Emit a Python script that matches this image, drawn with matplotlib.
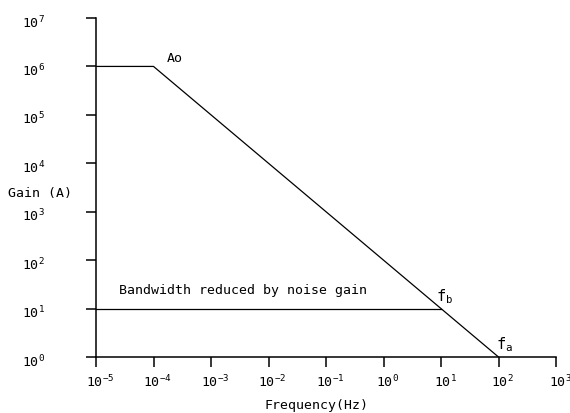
import math
import matplotlib
matplotlib.use("Agg")
import matplotlib.pyplot as plt
from matplotlib.ticker import FixedLocator, FuncFormatter
from matplotlib.transforms import ScaledTranslation

plt.rcParams['font.family'] = ['DejaVu Sans Mono']
plt.rcParams['mathtext.fontset'] = 'custom'
plt.rcParams['mathtext.rm'] = 'DejaVu Sans Mono'
plt.rcParams['mathtext.it'] = 'DejaVu Sans Mono'

# data
open_loop_freq = [1e-5, 1e-4, 1e2]
open_loop_gain = [1e6, 1e6, 1e0]
noise_freq = [1e-5, 1e1]
noise_gain = [1e1, 1e1]
x_exps = list(range(-5, 4))
y_exps = list(range(0, 8))

W, H = 570, 413
fig = plt.figure(figsize=(W / 100, H / 100), dpi=100)
ax = fig.add_axes([96 / W, 1 - 357 / H, (556 - 96) / W, (357 - 18) / H])
ax.set_xscale('log')
ax.set_yscale('log')
ax.set_xlim(1e-5, 1e3)
ax.set_ylim(1e0, 1e7)

ax.plot(open_loop_freq, open_loop_gain, color='black', lw=0.9)
ax.plot(noise_freq, noise_gain, color='black', lw=0.9)

for s in ['top', 'right']:
    ax.spines[s].set_visible(False)
for s in ['left', 'bottom']:
    ax.spines[s].set_linewidth(1.1)

ax.xaxis.set_major_locator(FixedLocator([10.0 ** e for e in x_exps]))
ax.yaxis.set_major_locator(FixedLocator([10.0 ** e for e in y_exps]))
ax.xaxis.set_minor_locator(FixedLocator([]))
ax.yaxis.set_minor_locator(FixedLocator([]))
fmt = FuncFormatter(lambda v, p: r'$10^{%d}$' % round(math.log10(v)))
ax.xaxis.set_major_formatter(fmt)
ax.yaxis.set_major_formatter(fmt)
ax.tick_params(axis='x', direction='out', length=7, width=1.1, pad=5, labelsize=9.5)
ax.tick_params(axis='y', direction='out', length=7, width=1.1, pad=46, labelsize=9.5)
for lab in ax.get_yticklabels():
    lab.set_horizontalalignment('left')
    lab.set_transform(lab.get_transform() + ScaledTranslation(0, -3 / 100, fig.dpi_scale_trans))
for lab in ax.get_xticklabels():
    lab.set_transform(lab.get_transform() + ScaledTranslation(4 / 100, 0, fig.dpi_scale_trans))

ax.annotate('Ao', (1e-4, 1e6), xytext=(13, 1), textcoords='offset pixels',
            ha='left', va='bottom', fontsize=9.5)
ax.annotate(r'$f_b$', (1e1, 1e1), xytext=(-5, 3), textcoords='offset pixels',
            ha='left', va='bottom', fontsize=11)
ax.annotate(r'$f_a$', (1e2, 1e0), xytext=(-3, 3), textcoords='offset pixels',
            ha='left', va='bottom', fontsize=11)
ax.annotate('Bandwidth reduced by noise gain', (1e-5, 1e1), xytext=(23, 12),
            textcoords='offset pixels', ha='left', va='bottom', fontsize=9.5)

fig.text(8 / W, 1 - 193 / H, 'Gain (A)', ha='left', va='center', fontsize=9.5)
fig.text(317 / W, 1 - 405 / H, 'Frequency(Hz)', ha='center', va='center', fontsize=9.5)

fig.savefig('out.png', dpi=100)
